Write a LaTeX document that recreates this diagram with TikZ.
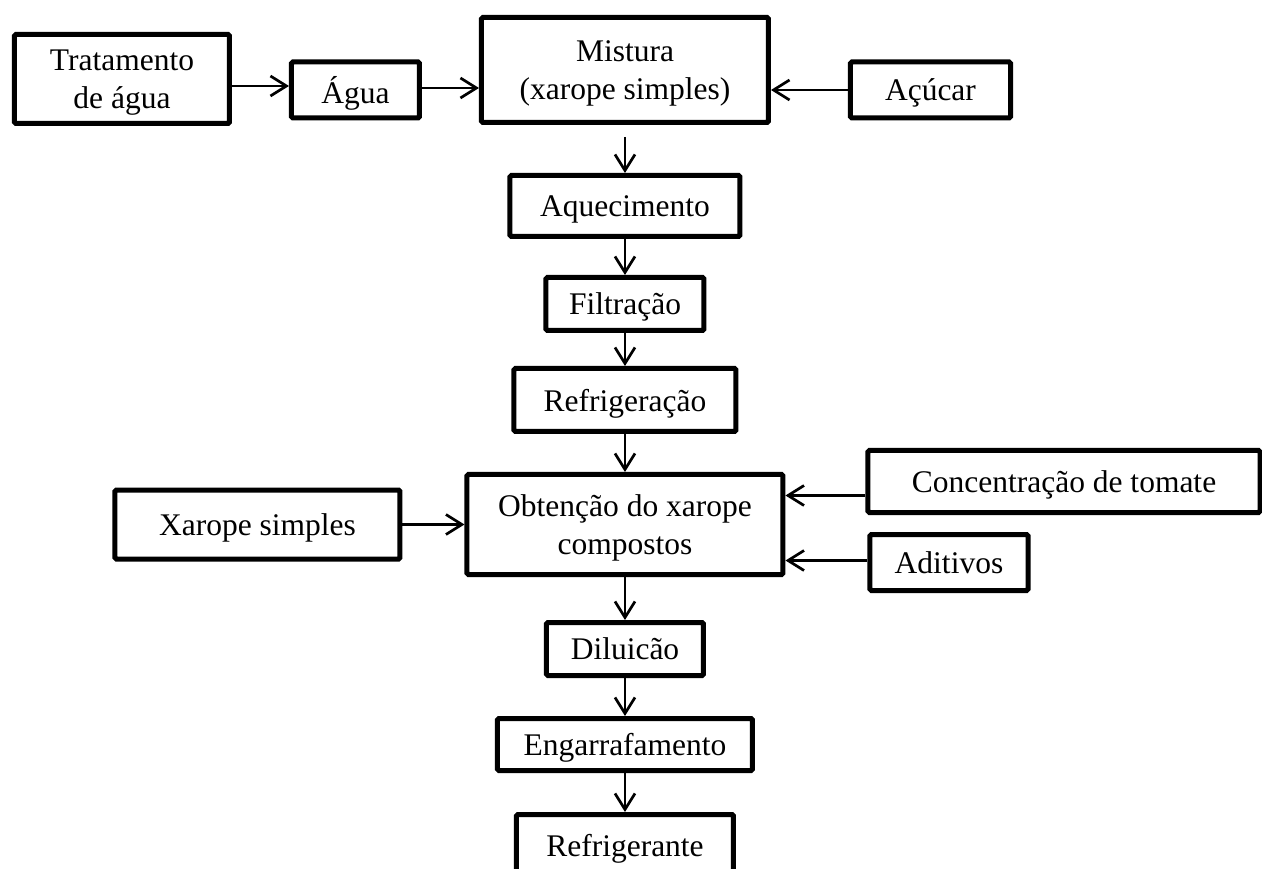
\documentclass[tikz,border=0pt]{standalone}
\usepackage{fontspec}
\setmainfont{Liberation Serif}
\usetikzlibrary{positioning,arrows.meta}

\begin{document}
\begin{tikzpicture}[
font=\fontsize{31.5}{38}\selectfont,
stepnode/.style={rectangle, draw=black, line width=5pt, rounded corners=1.5pt, align=center, inner sep=2pt, text depth=0pt},
flowarrow/.style={-{Straight Barb[length=16pt,width=20pt]}, line width=2.7pt},
]
\useasboundingbox (-625pt,70pt) rectangle (637pt,-799pt);

%Nodes
\node[stepnode, minimum width=287pt, minimum height=105pt] (mist)                                  {Mistura\\(xarope simples)};
\node[stepnode, minimum width=128pt, minimum height=56pt]  (agua)     [left=57pt of mist, yshift=-20pt]   {Água};
\node[stepnode, minimum width=215pt, minimum height=89pt]  (trat)     [left=57pt of agua, yshift=11pt]    {Tratamento\\de água};
\node[stepnode, minimum width=160pt, minimum height=56pt]  (acuc)     [right=77pt of mist, yshift=-20pt]  {Açúcar};
\node[stepnode, minimum width=230pt, minimum height=61pt]  (aquec)    [below=48pt of mist]                {Aquecimento};
\node[stepnode, minimum width=158pt, minimum height=53pt]  (filt)     [below=36pt of aquec]               {Filtração};
\node[stepnode, minimum width=222pt, minimum height=63pt]  (refrig)   [below=33pt of filt]                {Refrigeração};
\node[stepnode, minimum width=316pt, minimum height=100pt] (obt)      [below=38pt of refrig]              {Obtenção do xarope\\compostos};
\node[stepnode, minimum width=285pt, minimum height=69pt]  (xar)      [left=62pt of obt]                  {Xarope simples};
\node[stepnode, minimum width=392pt, minimum height=62pt]  (conc)     [right=80pt of obt, yshift=43pt]    {Concentração de tomate};
\node[stepnode, minimum width=158pt, minimum height=56pt]  (adit)     [right=82pt of obt, yshift=-38pt]   {Aditivos};
\node[stepnode, minimum width=157pt, minimum height=53pt]  (dilu)     [below=43pt of obt]                 {Diluicão};
\node[stepnode, minimum width=255pt, minimum height=52pt]  (engar)    [below=38pt of dilu]                {Engarrafamento};
\node[stepnode, minimum width=217pt, minimum height=61pt]  (refrigte) [below=39pt of engar]               {Refrigerante};

%Lines
\draw[flowarrow] ([yshift=4pt]trat.east |- agua.west) -- ([yshift=4pt]agua.west);
\draw[flowarrow] ([yshift=2pt]agua.east) -- ([yshift=2pt]agua.east -| mist.west);
\draw[flowarrow] (acuc.west) -- (acuc.west -| mist.east);
\draw[flowarrow] ([yshift=-12pt]mist.south) -- (mist.south |- aquec.north);
\draw[flowarrow] (aquec.south) -- (aquec.south |- filt.north);
\draw[flowarrow] (filt.south) -- (filt.south |- refrig.north);
\draw[flowarrow] (refrig.south) -- (refrig.south |- obt.north);
\draw[flowarrow] (xar.east) -- (xar.east -| obt.west);
\draw[flowarrow] ([yshift=-14pt]conc.west) -- ([yshift=-14pt]conc.west -| obt.east);
\draw[flowarrow] ([yshift=2pt]adit.west) -- ([yshift=2pt]adit.west -| obt.east);
\draw[flowarrow] (obt.south) -- (obt.south |- dilu.north);
\draw[flowarrow] (dilu.south) -- (dilu.south |- engar.north);
\draw[flowarrow] (engar.south) -- (engar.south |- refrigte.north);
\end{tikzpicture}
\end{document}
